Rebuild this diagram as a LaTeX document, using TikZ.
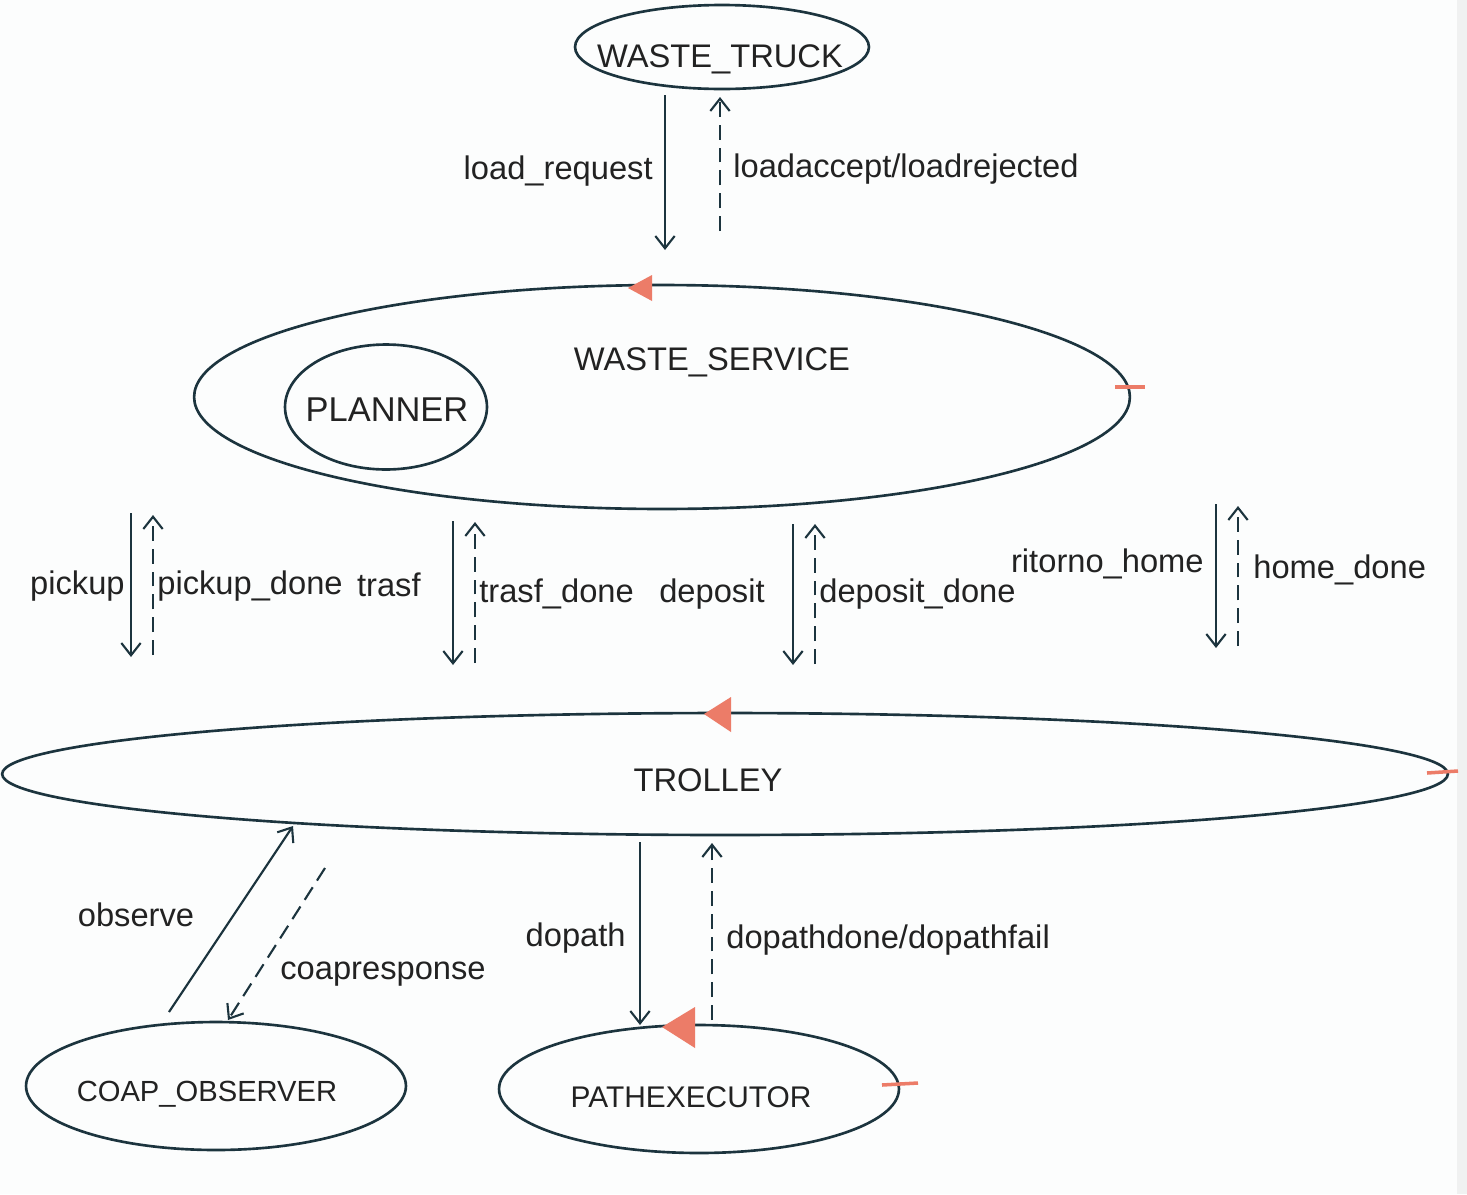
\documentclass[tikz,border=0pt]{standalone}
\usepackage{fontspec}
\setmainfont{Liberation Sans}
\usetikzlibrary{shapes.geometric,arrows.meta}
\definecolor{inkline}{RGB}{28,52,62}
\definecolor{inktext}{RGB}{34,34,34}
\definecolor{flag}{RGB}{236,124,104}
\definecolor{paper}{RGB}{252,253,253}
\definecolor{strip}{RGB}{240,241,241}
\tikzset{
  actor/.style={draw=inkline, line width=1.5pt, ellipse, inner sep=0pt},
  msgtext/.style={text=inktext, font=\fontsize{18.6}{22}\selectfont, inner sep=0pt},
  msg/.style={draw=inkline, line width=1.2pt, -{Straight Barb[length=7pt,width=11pt]}},
  reply/.style={msg, dash pattern=on 8.5pt off 4.5pt},
  flagtip/.style={fill=flag, draw=none},
  flagbar/.style={draw=flag, line width=2pt},
}
\begin{document}
\begin{tikzpicture}[x=0.02cm, y=-0.02cm]
    % page
    \useasboundingbox (0,0) rectangle (1467,1194);
    \fill[paper] (0,0) rectangle (1467,1194);
    \fill[strip] (1457,0) rectangle (1467,1194);

    % actors
    \node[actor, minimum width=5.88cm, minimum height=1.68cm] (truck) at (722,47) {};
    \node[actor, minimum width=18.72cm, minimum height=4.48cm] (service) at (662,397) {};
    \node[actor, minimum width=4.04cm, minimum height=2.5cm] (planner) at (386,407) {};
    \node[actor, minimum width=28.92cm, minimum height=2.44cm] (trolley) at (725,774) {};
    \node[actor, minimum width=7.6cm, minimum height=2.56cm] (coap) at (216,1086) {};
    \node[actor, minimum width=8cm, minimum height=2.56cm] (pathexec) at (699,1089) {};

    \node[msgtext, anchor=base] (truck-name) at (720,67) {WASTE\_TRUCK};
    \node[msgtext, anchor=base] (service-name) at (712,370) {WASTE\_SERVICE};
    \node[msgtext, anchor=base, font=\fontsize{19.6}{23}\selectfont] (planner-name) at (387,421) {PLANNER};
    \node[msgtext, anchor=base] (trolley-name) at (708,791) {TROLLEY};
    \node[msgtext, anchor=base, font=\fontsize{16.6}{20}\selectfont] (coap-name) at (207,1101) {COAP\_OBSERVER};
    \node[msgtext, anchor=base, font=\fontsize{17}{20}\selectfont] (pathexec-name) at (691,1107) {PATHEXECUTOR};

    % orange markers
    \fill[flagtip] (628,288) -- (652,275) -- (652,301) -- cycle;
    \draw[flagbar] (1115,387) -- (1145,387);
    \fill[flagtip] (704,714) -- (731,697) -- (731,732) -- cycle;
    \draw[flagbar] (1427,773) -- (1458,771);
    \fill[flagtip] (662,1027) -- (695,1007) -- (695,1048) -- cycle;
    \draw[flagbar] (882,1085) -- (918,1083);

    % truck <-> service
    \coordinate (req-a) at (665,95);   \coordinate (req-b) at (665,250);
    \coordinate (acc-a) at (720,231);  \coordinate (acc-b) at (720,97);
    \draw[msg] (req-a) -- (req-b);
    \draw[reply] (acc-a) -- (acc-b);
    \node[msgtext, anchor=base east] (req-lbl) at (653,179) {load\_request};
    \node[msgtext, anchor=base west] (acc-lbl) at (733,177) {loadaccept/loadrejected};

    % service <-> trolley
    \coordinate (pick-a) at (131,513);  \coordinate (pick-b) at (131,657);
    \coordinate (pdone-a) at (153,655); \coordinate (pdone-b) at (153,515);
    \coordinate (trasf-a) at (453,521); \coordinate (trasf-b) at (453,665);
    \coordinate (tdone-a) at (475,663); \coordinate (tdone-b) at (475,522);
    \coordinate (dep-a) at (793,524);   \coordinate (dep-b) at (793,665);
    \coordinate (ddone-a) at (815,664); \coordinate (ddone-b) at (815,524);
    \coordinate (home-a) at (1216,504); \coordinate (home-b) at (1216,648);
    \coordinate (hdone-a) at (1238,646);\coordinate (hdone-b) at (1238,506);
    \foreach \a in {pick,trasf,dep,home}
        \draw[msg] (\a-a) -- (\a-b);
    \foreach \a in {pdone,tdone,ddone,hdone}
        \draw[reply] (\a-a) -- (\a-b);
    \node[msgtext, anchor=base east] (pick-lbl) at (125,594) {pickup};
    \node[msgtext, anchor=base west] (pdone-lbl) at (157,594) {pickup\_done};
    \node[msgtext, anchor=base east] (trasf-lbl) at (421,596) {trasf};
    \node[msgtext, anchor=base west] (tdone-lbl) at (479,602) {trasf\_done};
    \node[msgtext, anchor=base east] (dep-lbl) at (765,602) {deposit};
    \node[msgtext, anchor=base west] (ddone-lbl) at (819,602) {deposit\_done};
    \node[msgtext, anchor=base east] (home-lbl) at (1204,572) {ritorno\_home};
    \node[msgtext, anchor=base west] (hdone-lbl) at (1253,578) {home\_done};

    % trolley <-> observer / executor
    \coordinate (obs-a) at (169,1012);  \coordinate (obs-b) at (293,826);
    \coordinate (coapr-a) at (325,868); \coordinate (coapr-b) at (228,1020);
    \coordinate (path-a) at (640,842);  \coordinate (path-b) at (640,1025);
    \coordinate (pdn-a) at (712,1020);  \coordinate (pdn-b) at (712,843);
    \draw[msg] (obs-a) -- (obs-b);
    \draw[reply] (coapr-a) -- (coapr-b);
    \draw[msg] (path-a) -- (path-b);
    \draw[reply] (pdn-a) -- (pdn-b);
    \node[msgtext, anchor=base] (obs-lbl) at (136,926) {observe};
    \node[msgtext, anchor=base west] (coapr-lbl) at (280,979) {coapresponse};
    \node[msgtext, anchor=base east] (path-lbl) at (626,946) {dopath};
    \node[msgtext, anchor=base west] (pdn-lbl) at (726,948) {dopathdone/dopathfail};
\end{tikzpicture}
\end{document}
